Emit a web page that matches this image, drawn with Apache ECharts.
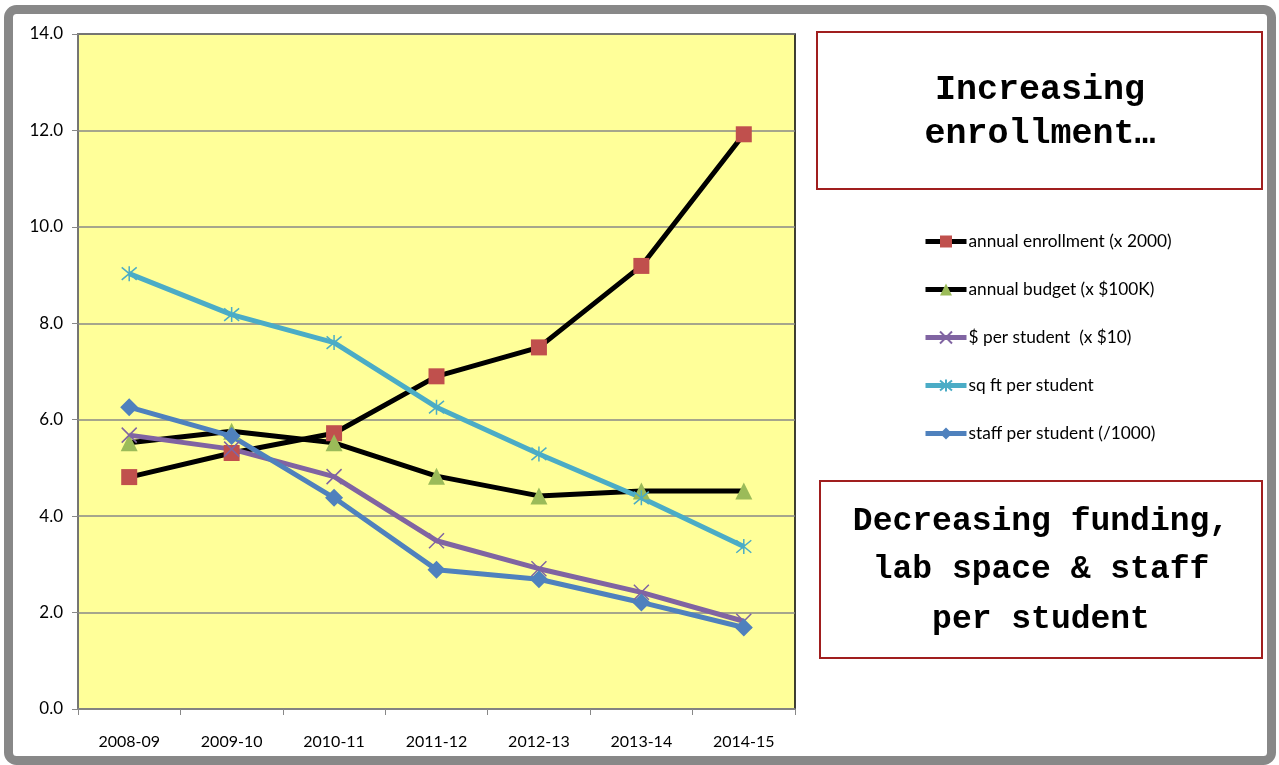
<!DOCTYPE html>
<html><head><meta charset="utf-8">
<script src="https://cdn.jsdelivr.net/npm/echarts@6/dist/echarts.min.js"></script>
<style>html,body{margin:0;padding:0;background:#fff}#c{width:1279px;height:765px}</style>
</head><body><div id="c"></div>
<script>
const categories = ['2008-09','2009-10','2010-11','2011-12','2012-13','2013-14','2014-15'];
const enrollment = [4.81, 5.31, 5.72, 6.90, 7.50, 9.19, 11.92];
const budget = [5.52, 5.76, 5.52, 4.83, 4.42, 4.52, 4.52];
const dollarsPerStudent = [5.68, 5.39, 4.82, 3.49, 2.91, 2.42, 1.82];
const sqftPerStudent = [9.03, 8.18, 7.60, 6.26, 5.29, 4.38, 3.37];
const staffPerStudent = [6.26, 5.66, 4.38, 2.89, 2.69, 2.21, 1.69];
const seriesNames = ['annual enrollment (x 2000)','annual budget (x $100K)','$ per student  (x $10)','sq ft per student','staff per student (/1000)'];
const boxTop = ['Increasing','enrollment…'];
const boxBottom = ['Decreasing funding,','lab space & staff','per student'];

const font = 'Lato,"Open Sans",sans-serif';
const mono = 'bold 35px "Liberation Mono","DejaVu Sans Mono",monospace';
const mono2 = 'bold 33px "Liberation Mono","DejaVu Sans Mono",monospace';
const xPath = 'path://M0,0L10,10M10,0L0,10';
const starPath = 'path://M0,0L10,10M10,0L0,10M5,-1L5,11';

function line(name, data, lineColor, symbol, symColor, size, stroke){
  return {
    name, type:'line', data, symbol, symbolSize:size, showSymbol:true,
    lineStyle:{color:lineColor, width:5},
    itemStyle: stroke ? {color:symColor, borderColor:symColor, borderWidth:1.5} : {color:symColor, borderWidth:0},
    emphasis:{disabled:true}, animation:false
  };
}

const chart = echarts.init(document.getElementById('c'));
chart.setOption({
  animation:false,
  grid:{left:78, top:34, right:484, bottom:56, show:true, backgroundColor:'#FFFF99', borderColor:'#000', borderWidth:1.5},
  xAxis:{type:'category', data:categories, boundaryGap:true,
    axisLine:{lineStyle:{color:'#888', width:1.5}},
    axisTick:{show:true, length:6, lineStyle:{color:'#888'}},
    axisLabel:{color:'#000', fontFamily:font, fontSize:16, margin:25}},
  yAxis:{type:'value', min:0, max:14, interval:2,
    axisLine:{show:true, lineStyle:{color:'#888', width:1.5}},
    axisTick:{show:true, length:6, lineStyle:{color:'#888'}},
    splitLine:{lineStyle:{color:'#888', width:1.5}},
    axisLabel:{color:'#000', fontFamily:font, fontSize:17, margin:15, formatter:v=>v.toFixed(1)}},
  legend:{orient:'vertical', left:918, top:228, itemWidth:41, itemHeight:15, itemGap:31,
    lineStyle:{width:5},
    textStyle:{fontFamily:font, fontSize:17.3, color:'#000', padding:[0,0,0,-3]}, data:seriesNames},
  series:[
    line(seriesNames[0], enrollment, '#000', 'rect', '#C0504D', 16, false),
    line(seriesNames[1], budget, '#000', 'triangle', '#9BBB59', 17, false),
    line(seriesNames[2], dollarsPerStudent, '#8064A2', xPath, '#8064A2', 15, true),
    line(seriesNames[3], sqftPerStudent, '#4BACC6', starPath, '#4BACC6', 15, true),
    line(seriesNames[4], staffPerStudent, '#4F81BD', 'diamond', '#4F81BD', 18, false)
  ],
  graphic:[
    {type:'rect', shape:{x:8.5, y:9.5, width:1263, height:751, r:8}, style:{fill:null, stroke:'#888', lineWidth:9}, silent:true},
    {type:'rect', shape:{x:817, y:32, width:445, height:157}, style:{fill:'#fff', stroke:'#A01E1E', lineWidth:2}, silent:true},
    {type:'text', x:1040, y:90, style:{text:boxTop[0], font:mono, fill:'#000', textAlign:'center', textVerticalAlign:'middle'}},
    {type:'text', x:1040, y:134, style:{text:boxTop[1], font:mono, fill:'#000', textAlign:'center', textVerticalAlign:'middle'}},
    {type:'rect', shape:{x:820, y:481, width:442, height:177}, style:{fill:'#fff', stroke:'#A01E1E', lineWidth:2}, silent:true},
    {type:'text', x:1041, y:522, style:{text:boxBottom[0], font:mono2, fill:'#000', textAlign:'center', textVerticalAlign:'middle'}},
    {type:'text', x:1041, y:570, style:{text:boxBottom[1], font:mono2, fill:'#000', textAlign:'center', textVerticalAlign:'middle'}},
    {type:'text', x:1041, y:620, style:{text:boxBottom[2], font:mono2, fill:'#000', textAlign:'center', textVerticalAlign:'middle'}}
  ]
});
</script></body></html>
